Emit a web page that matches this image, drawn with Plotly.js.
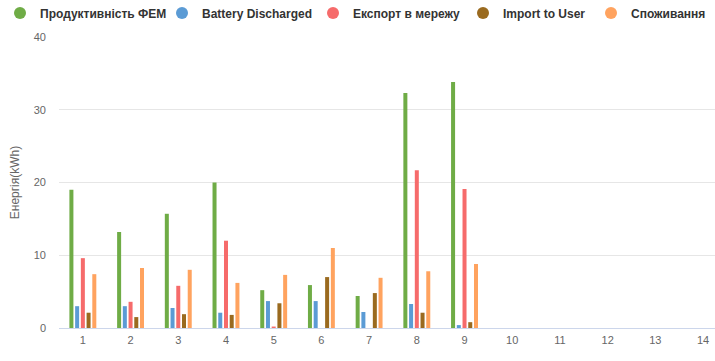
<!DOCTYPE html>
<html>
<head>
<meta charset="utf-8">
<script src="https://cdn.plot.ly/plotly-3.0.1.min.js"></script>
<style>
html,body{margin:0;padding:0;background:#fff;overflow:hidden;}
#chart{width:715px;height:361px;}
</style>
</head>
<body>
<div id="chart"></div>
<script>
var categories = ['1','2','3','4','5','6','7','8','9','10','11','12','13','14'];
var seriesNames = ['Продуктивність ФЕМ','Battery Discharged','Експорт в мережу','Import to User','Споживання'];
var pvProduction   = [19.0, 13.2, 15.7, 20.0, 5.2, 5.9, 4.4, 32.3, 33.8, 0, 0, 0, 0, 0];
var batteryDischarged = [3.0, 3.0, 2.75, 2.1, 3.7, 3.7, 2.2, 3.3, 0.4, 0, 0, 0, 0, 0];
var exportToGrid   = [9.6, 3.6, 5.8, 12.0, 0.2, 0, 0, 21.7, 19.1, 0, 0, 0, 0, 0];
var importToUser   = [2.1, 1.5, 1.9, 1.8, 3.4, 7.0, 4.8, 2.1, 0.8, 0, 0, 0, 0, 0];
var consumption    = [7.4, 8.25, 8.0, 6.2, 7.3, 11.0, 6.9, 7.8, 8.8, 0, 0, 0, 0, 0];
var yTitle = 'Енергія(kWh)';

var colors = ['#6fac46', '#5b9bd5', '#f66b6b', '#9a6a1f', '#ffa35f'];
var seriesValues = [pvProduction, batteryDischarged, exportToGrid, importToUser, consumption];
// legend box left positions (px) in the figure
var legendX = [0, 162, 313, 463, 591];
var legendIds = ['legend', 'legend2', 'legend3', 'legend4', 'legend5'];

var traces = [];
seriesValues.forEach(function(vals, i){
  traces.push({
    type: 'bar', x: categories, y: vals, name: seriesNames[i],
    marker: {color: colors[i], line: {width: 0}},
    showlegend: false, hoverinfo: 'skip'
  });
});
seriesValues.forEach(function(vals, i){
  traces.push({
    type: 'scatter', mode: 'markers', x: [null], y: [null], name: seriesNames[i],
    marker: {color: colors[i], size: 12, symbol: 'circle'},
    showlegend: true, hoverinfo: 'skip', legend: legendIds[i]
  });
});

var layout = {
  width: 715, height: 361,
  margin: {l: 59, r: 0, t: 37, b: 33, pad: 0, autoexpand: false},
  paper_bgcolor: '#ffffff', plot_bgcolor: '#ffffff',
  font: {family: 'Liberation Sans, Arial, sans-serif', color: '#666666', size: 11},
  barmode: 'group', bargap: 0.4, bargroupgap: 0.3,
  showlegend: true,
  xaxis: {
    type: 'category', range: [-0.5, 13.25], fixedrange: true,
    showline: true, linecolor: '#ccd6eb', linewidth: 1,
    showgrid: false, zeroline: false, ticks: '',
    ticklabelstandoff: 2,
    tickfont: {size: 11, color: '#666666'}
  },
  yaxis: {
    range: [0, 40], tickvals: [0, 10, 20, 30, 40], fixedrange: true,
    showgrid: true, gridcolor: '#e6e6e6', gridwidth: 1,
    zeroline: false, showline: false, ticks: '',
    ticklabelstandoff: 12,
    tickfont: {size: 11, color: '#666666'},
    title: {text: yTitle, font: {size: 12, color: '#666666'}, standoff: 11}
  }
};
legendIds.forEach(function(id, i){
  layout[id] = {
    orientation: 'h', xref: 'container', yref: 'container',
    x: legendX[i] / 715, y: (361 - 13) / 361, xanchor: 'left', yanchor: 'middle',
    bgcolor: 'rgba(0,0,0,0)', borderwidth: 0,
    font: {family: 'Liberation Sans, Arial, sans-serif', size: 12, color: '#333333', weight: 'bold'},
    itemclick: false
  };
});

Plotly.newPlot('chart', traces, layout, {displayModeBar: false, staticPlot: true});
</script>
</body>
</html>
